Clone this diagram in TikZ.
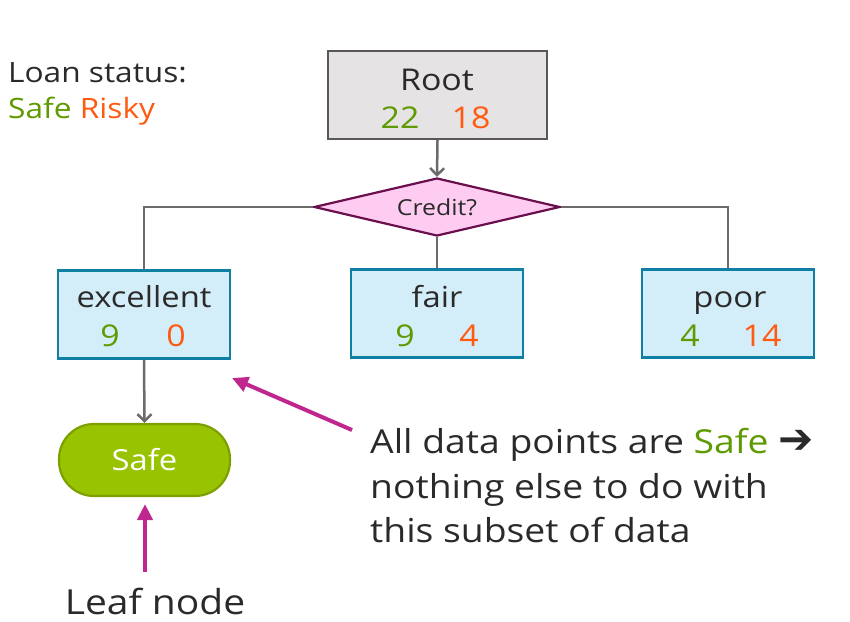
\documentclass[tikz,border=0pt]{standalone}
\usepackage{fontspec}
\setmainfont{Open Sans}[FakeStretch=1.13]
\newfontfamily\symfont{DejaVu Sans}
\usetikzlibrary{shapes.geometric,arrows.meta}
\definecolor{safeg}{HTML}{5E9A00}
\definecolor{riskyo}{HTML}{FF5A12}
\definecolor{ink}{HTML}{2B2A2A}
\definecolor{connc}{HTML}{6D6A6B}
\definecolor{magc}{HTML}{C0278E}
\definecolor{rootfill}{HTML}{E5E3E4}
\definecolor{rootdraw}{HTML}{5B5758}
\definecolor{diafill}{HTML}{FECCF0}
\definecolor{diadraw}{HTML}{6A0F4E}
\definecolor{boxfill}{HTML}{D4EEF9}
\definecolor{boxdraw}{HTML}{0F7FA3}
\definecolor{leaffill}{HTML}{97C300}
\definecolor{leafdraw}{HTML}{7DA000}
\newcommand{\fsz}[1]{\fontsize{#1}{#1}\selectfont}
\tikzset{
  rootbox/.style={draw=rootdraw, fill=rootfill, line width=2.2pt, minimum width=219pt, minimum height=88pt, inner sep=0pt},
  catbox/.style={draw=boxdraw, fill=boxfill, line width=2.2pt, minimum width=172pt, minimum height=88pt, inner sep=0pt},
  dia/.style={diamond, draw=diadraw, fill=diafill, line width=2.2pt, minimum width=246pt, minimum height=58pt, inner sep=0pt, aspect=4.2, text=ink, font=\fsz{22}},
  leaf/.style={draw=leafdraw, fill=leaffill, line width=2.2pt, minimum width=171pt, minimum height=72pt, rounded corners=35pt, inner sep=0pt, text=white, font=\fsz{29}},
  lbl/.style={anchor=base, inner sep=0pt, text=ink, font=\fsz{29}},
  num/.style={anchor=base, inner sep=0pt, font=\fsz{30}},
  conn/.style={draw=connc, line width=2.5pt},
  connarrow/.style={conn, -{Straight Barb[length=7pt,width=14pt,line width=2.5pt]}},
  magarrow/.style={draw=magc, line width=4pt, -{Triangle[length=16pt,width=15pt]}},
  notetext/.style={anchor=base west, inner sep=0pt, text=ink, font=\fsz{33}},
}
\begin{document}
\begin{tikzpicture}[x=1pt,y=-1pt]
\useasboundingbox (0,0) rectangle (850,621);
% legend
\node[anchor=base west, inner sep=0pt, text=ink, font=\fsz{28}] (legend1) at (8,82) {Loan status:};
\node[anchor=base west, inner sep=0pt, font=\fsz{28}] (legend2) at (8,118) {\textcolor{safeg}{Safe} \textcolor{riskyo}{Risky}};
% root
\node[rootbox] (root) at (437.5,95) {};
\node[lbl, font=\fsz{30}] (rootlbl) at (437,90) {Root};
\node[num, text=safeg] (rootsafe) at (400,128) {22};
\node[num, text=riskyo] (rootrisky) at (471,128) {18};
% diamond
\node[dia] (credit) at (437,207) {Credit?};
% category boxes
\node[catbox] (exc) at (144,314.5) {};
\node[catbox] (fair) at (437,313.5) {};
\node[catbox] (poor) at (728,313.5) {};
\node[lbl] (exclbl) at (144,307) {excellent};
\node[num, text=safeg] (excsafe) at (110,346) {9};
\node[num, text=riskyo] (excrisky) at (176,346) {0};
\node[lbl] (fairlbl) at (437,307) {fair};
\node[num, text=safeg] (fairsafe) at (405,346) {9};
\node[num, text=riskyo] (fairrisky) at (469,346) {4};
\node[lbl] (poorlbl) at (730,307) {poor};
\node[num, text=safeg] (poorsafe) at (690,346) {4};
\node[num, text=riskyo] (poorrisky) at (762,346) {14};
% leaf
\node[leaf] (safe) at (144.5,460) {Safe};
% connectors
\draw[connarrow] (root.south) -- (credit.north);
\draw[conn] (credit.west) -| (exc.north);
\draw[conn] (credit.east) -| (poor.north);
\draw[conn] (credit.south) -- (fair.north);
\draw[connarrow] (exc.south) -- (safe.north);
% annotation
\node[notetext] (note1) at (370,453) {All data points are \textcolor{safeg}{Safe} {\symfont\fsz{42}\textcolor{ink}{➔}}};
\node[notetext] (note2) at (370,498) {nothing else to do with};
\node[notetext] (note3) at (370,542) {this subset of data};
\coordinate (notearrowstart) at (352,430);
\coordinate (notearrowtip) at (232,378);
\draw[magarrow] (notearrowstart) -- (notearrowtip);
\node[anchor=base, inner sep=0pt, text=ink, font=\fsz{34.5}] (leaflbl) at (155,614) {Leaf node};
\coordinate (leafarrowstart) at (145,572);
\coordinate (leafarrowtip) at (145,504);
\draw[magarrow] (leafarrowstart) -- (leafarrowtip);
\end{tikzpicture}
\end{document}
